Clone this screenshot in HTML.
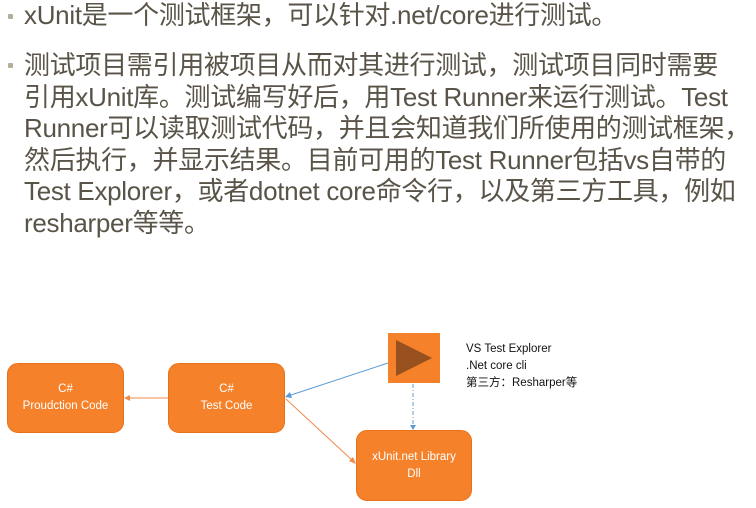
<!DOCTYPE html>
<html><head><meta charset="utf-8"><style>
body{margin:0;width:756px;height:508px;background:#fff;overflow:hidden;position:relative;font-family:"Liberation Sans","Noto Sans CJK SC",sans-serif}
.t{position:absolute;left:24px;color:#5a5448;font-size:26px;line-height:31.5px;white-space:nowrap;letter-spacing:-0.3px}
.b{position:absolute;left:8px;width:5px;height:5px;background:#b5ae9a;border-radius:1px}
.box{position:absolute;background:#f5822a;border:1px solid #e87018;border-radius:11px;color:#fff;font-size:11.5px;text-align:center;display:flex;align-items:center;justify-content:center;line-height:17px}
.s{position:absolute;left:466px;font-size:11.5px;color:#111;line-height:17px}
</style></head><body>
<div class="b" style="top:14px"></div>
<div class="t" style="top:0px">xUnit是一个测试框架，可以针对.net/core进行测试。</div>
<div class="b" style="top:63px"></div>
<div class="t" style="top:50px">测试项目需引用被项目从而对其进行测试，测试项目同时需要<br>引用xUnit库。测试编写好后，用Test Runner来运行测试。Test<br>Runner可以读取测试代码，并且会知道我们所使用的测试框架，<br>然后执行，并显示结果。目前可用的Test Runner包括vs自带的<br>Test Explorer，或者dotnet core命令行，以及第三方工具，例如<br>resharper等等。</div>
<div class="box" style="left:7px;top:363px;width:115px;height:68px">C#<br>Proudction Code</div>
<div class="box" style="left:168px;top:363px;width:115px;height:68px">C#<br>Test Code</div>
<div class="box" style="left:356px;top:430px;width:114px;height:69px">xUnit.net Library<br>Dll</div>
<svg style="position:absolute;left:0;top:0" width="756" height="508">
<rect x="388" y="333" width="52" height="50" fill="#f5822a"/>
<polygon points="396,340 432,358 396,376" fill="#97501e"/>
<line x1="168" y1="398" x2="127" y2="398" stroke="#f08a4b" stroke-width="1"/>
<polygon points="124,398 130,395 130,401" fill="#f08a4b"/>
<line x1="388" y1="363" x2="288" y2="396" stroke="#5b9bd5" stroke-width="1"/>
<polygon points="285,397 290,392 292,398" fill="#5b9bd5"/>
<line x1="286" y1="399" x2="353" y2="461" stroke="#f08a4b" stroke-width="1"/>
<polygon points="356,464 349,461 353,457" fill="#f08a4b"/>
<line x1="413" y1="384" x2="413" y2="427" stroke="#5b9bd5" stroke-width="1" stroke-dasharray="4,2,1,2"/>
<polygon points="413,430 410,425 416,425" fill="#5b9bd5"/>
</svg>
<div class="s" style="top:341px">VS Test Explorer<br>.Net core cli<br>第三方：Resharper等</div>
</body></html>
